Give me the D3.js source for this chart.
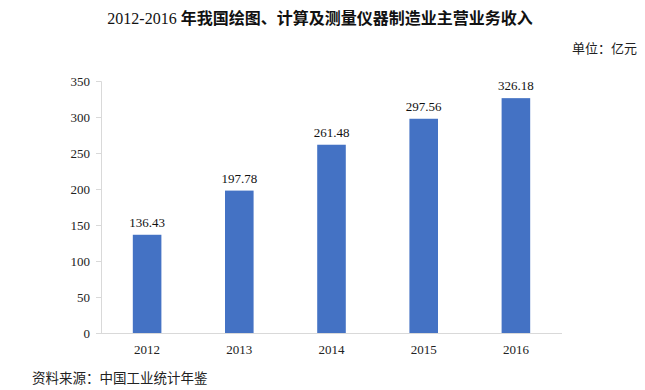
<!DOCTYPE html>
<html lang="zh">
<head>
  <meta charset="UTF-8">
  <script src="https://d3js.org/d3.v7.min.js"></script>
  <title>主营业务收入</title>
  <style>
    body { margin: 0; background: #fff; }
  </style>
</head>
<body>
  <script>
    const years = ["2012", "2013", "2014", "2015", "2016"]
    const revenue = [136.43, 197.78, 261.48, 297.56, 326.18]
    const yTicks = [0, 50, 100, 150, 200, 250, 300, 350]

    const width = 645, height = 390
    const margin = { top: 81, right: 83, bottom: 57, left: 101 }
    const innerW = width - margin.left - margin.right
    const innerH = height - margin.top - margin.bottom

    const serif = "'Liberation Serif', 'Times New Roman', serif"
    const cjk = "'Liberation Serif', 'Noto Sans CJK SC', sans-serif"

    const svg = d3.select("body").append("svg")
        .attr("width", width)
        .attr("height", height)

    // title: digits regular serif, chinese bold
    const title = svg.append("text")
        .attr("x", 320).attr("y", 24)
        .attr("text-anchor", "middle")
        .style("font-family", cjk)
        .style("font-size", "16px")
        .attr("fill", "#111")
    title.append("tspan").text("2012-2016 ")
    title.append("tspan")
        .style("font-weight", "bold")
        .text("年我国绘图、计算及测量仪器制造业主营业务收入")

    svg.append("text")
        .attr("x", 637).attr("y", 53)
        .attr("text-anchor", "end")
        .style("font-family", cjk)
        .style("font-size", "13px")
        .attr("fill", "#222")
        .text("单位：亿元")

    svg.append("text")
        .attr("x", 32).attr("y", 383)
        .style("font-family", cjk)
        .style("font-size", "13.5px")
        .attr("fill", "#222")
        .text("资料来源：中国工业统计年鉴")

    const g = svg.append("g")
        .attr("transform", `translate(${margin.left},${margin.top})`)

    const x = d3.scaleBand()
        .domain(years)
        .range([0, innerW])
        .paddingInner(0.69)
        .paddingOuter(0.345)

    const y = d3.scaleLinear()
        .domain([0, 350])
        .range([innerH, 0])

    // y axis
    const yAxis = g.append("g")
        .call(d3.axisLeft(y).tickValues(yTicks).tickSize(5).tickPadding(6))
    yAxis.select(".domain").attr("stroke", "#d9d9d9")
    yAxis.selectAll(".tick line").attr("stroke", "#d9d9d9")
    yAxis.selectAll("text")
        .style("font-family", serif)
        .style("font-size", "13px")
        .attr("fill", "#222")

    // x axis
    const xAxis = g.append("g")
        .attr("transform", `translate(0,${innerH})`)
        .call(d3.axisBottom(x).tickSize(0).tickPadding(12))
    xAxis.select(".domain").attr("stroke", "#d9d9d9").attr("d", `M-4,0.5H${innerW}`)
    xAxis.selectAll("text")
        .style("font-family", serif)
        .style("font-size", "13px")
        .attr("fill", "#222")

    g.selectAll("rect.bar")
        .data(revenue)
        .join("rect")
        .attr("class", "bar")
        .attr("x", (d, i) => x(years[i]))
        .attr("y", d => y(d))
        .attr("width", x.bandwidth())
        .attr("height", d => innerH - y(d))
        .attr("fill", "#4472c4")

    g.selectAll("text.val")
        .data(revenue)
        .join("text")
        .attr("class", "val")
        .attr("x", (d, i) => x(years[i]) + x.bandwidth() / 2)
        .attr("y", d => y(d) - 8)
        .attr("text-anchor", "middle")
        .style("font-family", serif)
        .style("font-size", "13px")
        .attr("fill", "#111")
        .text(d => d.toFixed(2))
  </script>
</body>
</html>
